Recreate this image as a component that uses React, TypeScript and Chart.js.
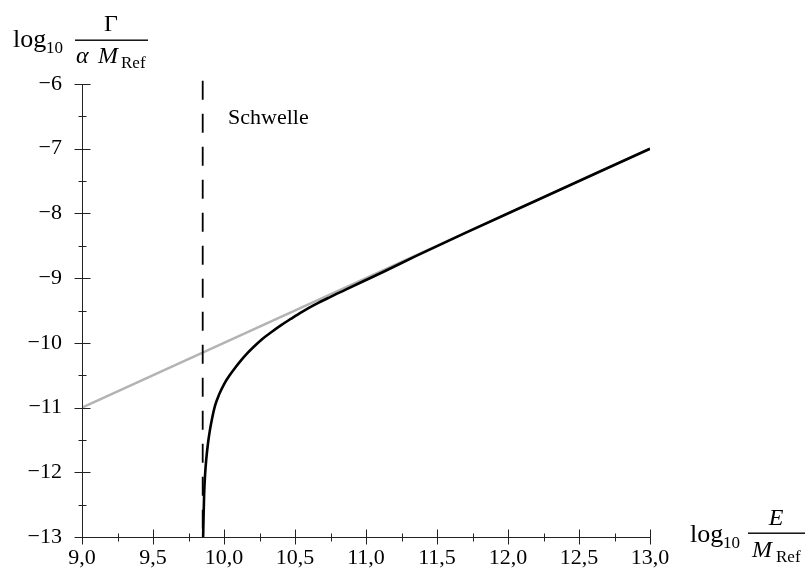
import React, { useEffect, useRef } from "react";
import { Chart, registerables } from "chart.js";

Chart.register(...registerables);

// ---- data ----
const xTickValues = [9.0, 9.5, 10.0, 10.5, 11.0, 11.5, 12.0, 12.5, 13.0];
const xTickLabels = ["9,0", "9,5", "10,0", "10,5", "11,0", "11,5", "12,0", "12,5", "13,0"];
const xMinorTicks = [9.25, 9.75, 10.25, 10.75, 11.25, 11.75, 12.25, 12.75];
const yTickValues = [-13, -12, -11, -10, -9, -8, -7, -6];
const yTickLabels = ["−13", "−12", "−11", "−10", "−9", "−8", "−7", "−6"];
const yMinorTicks = [-12.5, -11.5, -10.5, -9.5, -8.5, -7.5, -6.5];

// asymptote (grey)
const asymX = [9.0, 13.0];
const asymY = [-11.0, -7.0];

// rate curve (black)
const curveX = [9.853, 9.856, 9.86, 9.867, 9.875, 9.888, 9.9, 9.915, 9.937, 9.965, 10.0, 10.04, 10.08, 10.12, 10.16, 10.21, 10.27, 10.33, 10.4, 10.47, 10.55, 10.64, 10.74, 10.85, 10.97, 11.12, 11.35, 11.7, 12.2, 13.0];
const curveY = [-13.0, -12.7, -12.35, -12.03, -11.8, -11.54, -11.36, -11.18, -10.97, -10.8, -10.64, -10.5, -10.38, -10.27, -10.17, -10.06, -9.94, -9.84, -9.73, -9.63, -9.52, -9.41, -9.3, -9.185, -9.06, -8.905, -8.66, -8.3, -7.8, -7.0];

// threshold (dashed)
const thresholdX = [9.85, 9.85];
const thresholdY = [-5.95, -13.0];
const thresholdLabel = "Schwelle";

const SERIF = "'Liberation Serif', 'Times New Roman', serif";

const zip = (xs: number[], ys: number[]) => xs.map((x, i) => ({ x, y: ys[i] }));

const overlayPlugin = {
  id: "overlay",
  afterDraw(chart: any) {
    const ctx = chart.ctx as CanvasRenderingContext2D;
    const xs = chart.scales.x;
    const ys = chart.scales.y;
    const area = chart.chartArea;
    const ax = Math.round(area.left) + 0.5;
    const ay = Math.round(area.bottom) + 0.5;
    ctx.save();
    ctx.strokeStyle = "#222";
    ctx.lineWidth = 1;
    ctx.beginPath();
    ctx.moveTo(Math.round(area.left), ay);
    ctx.lineTo(Math.round(area.right) + 1, ay);
    ctx.moveTo(ax, Math.round(area.bottom) + 1);
    ctx.lineTo(ax, Math.round(area.top));
    xTickValues.forEach((v) => {
      const p = Math.round(xs.getPixelForValue(v)) + 0.5;
      ctx.moveTo(p, ay - 8);
      ctx.lineTo(p, ay + 7);
    });
    xMinorTicks.forEach((v) => {
      const p = Math.round(xs.getPixelForValue(v)) + 0.5;
      ctx.moveTo(p, ay - 4);
      ctx.lineTo(p, ay + 4);
    });
    yTickValues.forEach((v) => {
      const p = Math.round(ys.getPixelForValue(v)) + 0.5;
      ctx.moveTo(ax - 8, p);
      ctx.lineTo(ax + 8, p);
    });
    yMinorTicks.forEach((v) => {
      const p = Math.round(ys.getPixelForValue(v)) + 0.5;
      ctx.moveTo(ax - 4, p);
      ctx.lineTo(ax + 4, p);
    });
    ctx.stroke();

    ctx.fillStyle = "#000";
    ctx.textBaseline = "alphabetic";
    ctx.textAlign = "left";
    // threshold label
    ctx.font = `22px ${SERIF}`;
    ctx.fillText(thresholdLabel, 228, 124);

    // y-axis title: log10 Γ / (α M_Ref)
    ctx.font = `26px ${SERIF}`;
    ctx.fillText("log", 13, 47);
    ctx.font = `17px ${SERIF}`;
    ctx.fillText("10", 46, 53);
    ctx.fillRect(75, 39.5, 73, 1.4);
    ctx.font = `24px ${SERIF}`;
    ctx.textAlign = "center";
    ctx.fillText("Γ", 111, 31);
    ctx.textAlign = "left";
    ctx.font = `italic 24px ${SERIF}`;
    ctx.fillText("α", 76, 63);
    ctx.fillText("M", 98, 63);
    ctx.font = `17px ${SERIF}`;
    ctx.fillText("Ref", 121, 68);

    // x-axis title: log10 E / M_Ref
    ctx.font = `26px ${SERIF}`;
    ctx.fillText("log", 690, 542);
    ctx.font = `17px ${SERIF}`;
    ctx.fillText("10", 723, 548);
    ctx.fillRect(748, 532.5, 57, 1.4);
    ctx.font = `italic 24px ${SERIF}`;
    ctx.textAlign = "center";
    ctx.fillText("E", 776, 525);
    ctx.textAlign = "left";
    ctx.fillText("M", 752, 557);
    ctx.font = `17px ${SERIF}`;
    ctx.fillText("Ref", 776, 562);
    ctx.restore();
  },
};

export default function App() {
  const canvasRef = useRef<HTMLCanvasElement | null>(null);

  useEffect(() => {
    if (!canvasRef.current) return;
    const chart = new Chart(canvasRef.current, {
      type: "scatter",
      data: {
        datasets: [
          {
            label: "curve",
            data: zip(curveX, curveY),
            showLine: true,
            borderColor: "#000",
            borderWidth: 2.6,
            pointRadius: 0,
            cubicInterpolationMode: "monotone",
            borderCapStyle: "butt",
          },
          {
            label: "threshold",
            data: zip(thresholdX, thresholdY),
            showLine: true,
            borderColor: "#000",
            borderWidth: 1.8,
            borderDash: [19, 14],
            pointRadius: 0,
            clip: false as any,
          },
          {
            label: "asymptote",
            data: zip(asymX, asymY),
            showLine: true,
            borderColor: "#b3b3b3",
            borderWidth: 2.4,
            pointRadius: 0,
          },
        ],
      },
      options: {
        responsive: false,
        animation: false,
        layout: { padding: { left: 0, top: 84, right: 161, bottom: 0 } },
        plugins: { legend: { display: false }, tooltip: { enabled: false } },
        scales: {
          x: {
            type: "linear",
            min: 9,
            max: 13,
            afterFit: (s: any) => {
              s.height = 39;
            },
            afterBuildTicks: (s: any) => {
              s.ticks = xTickValues.map((v) => ({ value: v }));
            },
            grid: { display: false, drawTicks: false },
            border: { display: false },
            ticks: {
              padding: 8,
              color: "#000",
              font: { family: SERIF, size: 22 },
              maxRotation: 0,
              autoSkip: false,
              callback: (v: any) => {
                const i = xTickValues.findIndex((t) => Math.abs(t - Number(v)) < 1e-6);
                return i >= 0 ? xTickLabels[i] : "";
              },
            },
          },
          y: {
            type: "linear",
            min: -13,
            max: -6,
            afterFit: (s: any) => {
              s.width = 82;
            },
            afterBuildTicks: (s: any) => {
              s.ticks = yTickValues.map((v) => ({ value: v }));
            },
            grid: { display: false, drawTicks: false },
            border: { display: false },
            ticks: {
              padding: 20,
              color: "#000",
              font: { family: SERIF, size: 22 },
              autoSkip: false,
              callback: (v: any) => {
                const i = yTickValues.findIndex((t) => Math.abs(t - Number(v)) < 1e-6);
                return i >= 0 ? yTickLabels[i] : "";
              },
            },
          },
        },
      },
      plugins: [overlayPlugin],
    });
    return () => chart.destroy();
  }, []);

  return (
    <div style={{ position: "fixed", left: 0, top: 0, width: 811, height: 576, background: "#fff" }}>
      <canvas ref={canvasRef} width={811} height={576} style={{ width: 811, height: 576, display: "block" }} />
    </div>
  );
}
